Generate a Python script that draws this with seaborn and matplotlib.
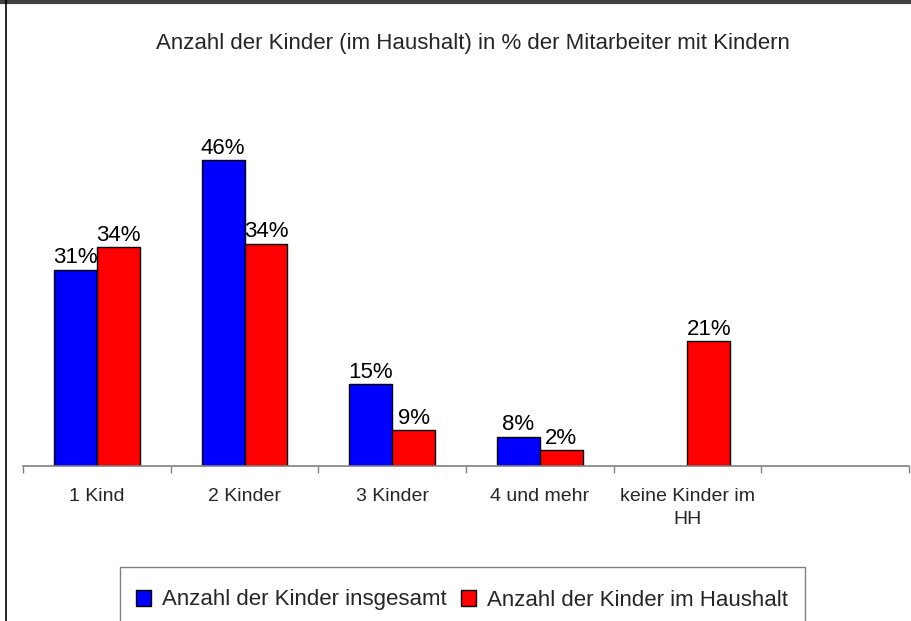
import matplotlib
matplotlib.use("Agg")
import matplotlib.pyplot as plt
import seaborn as sns
import pandas as pd
from matplotlib.lines import Line2D
from matplotlib.patches import Rectangle

# ---- data ----
categories = ["1 Kind", "2 Kinder", "3 Kinder", "4 und mehr", "keine Kinder im\nHH", ""]
series_names = ["Anzahl der Kinder insgesamt", "Anzahl der Kinder im Haushalt"]
insgesamt_cats = ["1 Kind", "2 Kinder", "3 Kinder", "4 und mehr"]
insgesamt_vals = [29.5, 46.0, 12.3, 4.4]
insgesamt_labels = ["31%", "46%", "15%", "8%"]
haushalt_cats = ["1 Kind", "2 Kinder", "3 Kinder", "4 und mehr", "keine Kinder im\nHH"]
haushalt_vals = [32.9, 33.4, 5.4, 2.4, 18.8]
haushalt_labels = ["34%", "34%", "9%", "2%", "21%"]
title = "Anzahl der Kinder (im Haushalt) in % der Mitarbeiter mit Kindern"

df = pd.DataFrame({
    "cat": insgesamt_cats + haushalt_cats,
    "val": insgesamt_vals + haushalt_vals,
    "series": [series_names[0]] * len(insgesamt_cats) + [series_names[1]] * len(haushalt_cats),
})

sns.set_theme(style="white")
plt.rcParams["font.family"] = ["Liberation Sans", "DejaVu Sans"]

W, H = 911, 621
fig = plt.figure(figsize=(W / 100, H / 100), dpi=100)
ax = fig.add_axes([23 / W, (H - 466) / H, (909 - 23) / W, (466 - 100) / H])

sns.barplot(data=df, x="cat", y="val", hue="series", order=categories,
            hue_order=series_names, palette=["#0000FF", "#FF0000"],
            width=0.58, edgecolor="black", linewidth=1.0, ax=ax,
            saturation=1)

for cont, labs in zip(ax.containers, [insgesamt_labels, haushalt_labels]):
    ax.bar_label(cont, labels=labs, padding=1, fontsize=16, color="black")

n = len(categories)
ax.set_xlim(-0.5, n - 0.5)
ax.set_ylim(0, 55.0)
ax.set_xticks([i - 0.5 for i in range(n + 1)])
ax.set_xticklabels([])
ax.set_xticks(list(range(n)), minor=True)
ax.set_xticklabels(categories, minor=True, fontsize=14, va="top", linespacing=1.45)
ax.tick_params(axis="x", which="major", direction="out", length=5, width=1,
               color="#808080", bottom=True)
ax.tick_params(axis="x", which="minor", length=0, pad=16)
ax.set_yticks([])
ax.set_xlabel("")
ax.set_ylabel("")
for s in ["left", "top", "right"]:
    ax.spines[s].set_visible(False)
ax.spines["bottom"].set_color("#808080")
ax.spines["bottom"].set_linewidth(1.2)

leg = ax.legend(loc="center", bbox_to_anchor=(462 / W, 1 - 600 / H),
                bbox_transform=fig.transFigure, ncol=2, fontsize=16,
                frameon=False, borderaxespad=0,
                handlelength=0.7, handleheight=0.7, handletextpad=0.5,
                columnspacing=0.6, borderpad=0.0)
for h in leg.legend_handles:
    h.set_edgecolor("black")
    h.set_linewidth(1.0)

# legend frame (extends below the visible area)
fig.add_artist(Rectangle((120 / W, -0.1), (805 - 120) / W, (H - 567) / H + 0.1,
                         transform=fig.transFigure, fill=False,
                         edgecolor="#808080", linewidth=1.0))

fig.text(473 / W, 1 - 44 / H, title, ha="center", va="center", fontsize=16)

# outer frame (top and left edge of the chart area)
fig.add_artist(Line2D([0, 1], [1 - 2 / H, 1 - 2 / H], transform=fig.transFigure,
                      color="#404040", linewidth=3))
fig.add_artist(Line2D([6 / W, 6 / W], [0, 1], transform=fig.transFigure,
                      color="black", linewidth=1.2))

fig.savefig("out.png", dpi=100)
